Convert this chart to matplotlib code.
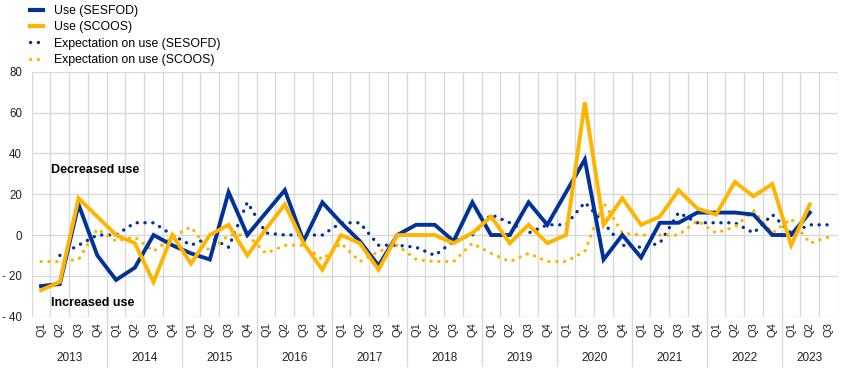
import numpy as np
import matplotlib
matplotlib.use("Agg")
import matplotlib.pyplot as plt
from matplotlib.lines import Line2D

plt.rcParams['font.family'] = ['Liberation Sans', 'DejaVu Sans']

years = ['2013', '2014', '2015', '2016', '2017', '2018', '2019', '2020', '2021', '2022', '2023']
quarters = ['Q1', 'Q2', 'Q3', 'Q4']
nan = np.nan

use_sesfod = [-25, -24, 15, -10, -22, -16, 0, -5, -9, -12, 21, 0, 11, 22, -3, 16, 6, -3, -15, 0,
              5, 5, -3, 16, 0, 0, 16, 5, 21, 37, -12, 0, -11, 6, 6, 11, 11, 11, 10, 0,
              0, 11, nan]
use_scoos = [-27, -23, 18, 9, 0, -4, -23, 0, -14, 0, 5, -10, 3, 15, -4, -17, 0, -4, -17, 0,
             0, 0, -4, 1, 9, -4, 5, -4, 0, 65, 5, 18, 5, 9, 22, 13, 10, 26, 19, 25,
             -5, 15, nan]
exp_sesfod = [nan, -10, -5, 0, 0, 6, 6, 0, -5, -1, -6, 16, 1, 0, 0, 0, 6, 6, -5, -5,
              -6, -10, -3, 0, 10, 6, 1, 5, 5, 16, 6, -5, -6, -4, 11, 6, 6, 6, 1, 10,
              1, 5, 5]
exp_scoos = [-13, -13, -12, 3, -3, -1, -8, -1, 4, -8, 0, 0, -9, -5, -5, -12, -4, -13, -8, -5,
             -12, -13, -13, -4, -9, -13, -9, -13, -13, -8, 16, 1, 0, 0, 0, 7, 1, 4, 12, 1,
             8, -4, -1]

labels = ['Use (SESFOD)', 'Use (SCOOS)', 'Expectation on use (SESOFD)', 'Expectation on use (SCOOS)']

BLUE = '#003299'
ORANGE = '#FFB400'
GRID = '#d9d9d9'

n = len(use_sesfod)
x = np.arange(n)
qlabels = [quarters[i % 4] for i in range(n)]

fig = plt.figure(figsize=(8.68, 3.70), dpi=100)
ax = fig.add_axes([0.0365, 0.1441, 0.9289, 0.6621])

ax.set_xlim(-0.5, n - 0.5)
ax.set_ylim(-40, 80)
ax.set_yticks(np.arange(-40, 81, 20))
ax.set_yticklabels(['- 40', '- 20', '0', '20', '40', '60', '80'])

for xv in np.arange(-0.5, n, 1.0):
    ax.axvline(xv, color=GRID, lw=1.0, zorder=0)
for yv in np.arange(-40, 81, 20):
    ax.axhline(yv, color=GRID, lw=1.0, zorder=0)

for s in ax.spines.values():
    s.set_visible(False)

dot = dict(linestyle=(0, (0.05, 2.3)), dash_capstyle='round', lw=2.4)
ax.plot(x, exp_sesfod, color=BLUE, zorder=2, **dot)
ax.plot(x, exp_scoos, color=ORANGE, zorder=2, **dot)
ax.plot(x, use_sesfod, color=BLUE, lw=2.8, zorder=3, solid_joinstyle='miter')
ax.plot(x, use_scoos, color=ORANGE, lw=2.8, zorder=4, solid_joinstyle='miter')

ax.set_xticks(x)
ax.set_xticklabels(qlabels, rotation=90, fontsize=8, color='#222222')
ax.tick_params(axis='x', length=0, pad=4)
ax.tick_params(axis='y', length=0, pad=7, labelsize=8.3, labelcolor='#222222')

# year labels and separators
for k, yr in enumerate(years):
    start = 4 * k
    end = min(start + 4, n)
    ax.text((start + end - 1) / 2, -0.17, yr, transform=ax.get_xaxis_transform(),
            ha='center', va='center', fontsize=8.5, color='#222222')
    if k > 0:
        ax.plot([start - 0.5, start - 0.5], [0, -0.2], transform=ax.get_xaxis_transform(),
                color=GRID, lw=1.0, clip_on=False)

ax.text(0.55, 32, 'Decreased use', fontsize=9, fontweight='bold', ha='left', va='center')
ax.text(0.55, -33.5, 'Increased use', fontsize=9, fontweight='bold', ha='left', va='center')

handles = [
    Line2D([], [], color=BLUE, lw=3),
    Line2D([], [], color=ORANGE, lw=3),
    Line2D([], [], color=BLUE, **dot),
    Line2D([], [], color=ORANGE, **dot),
]
fig.legend(handles, labels, loc='upper left', bbox_to_anchor=(0.033, 0.99),
           frameon=False, fontsize=8.8, handlelength=1.1, handletextpad=0.9,
           labelspacing=0.36, borderaxespad=0, borderpad=0.1)

fig.savefig('out.png', dpi=100)
